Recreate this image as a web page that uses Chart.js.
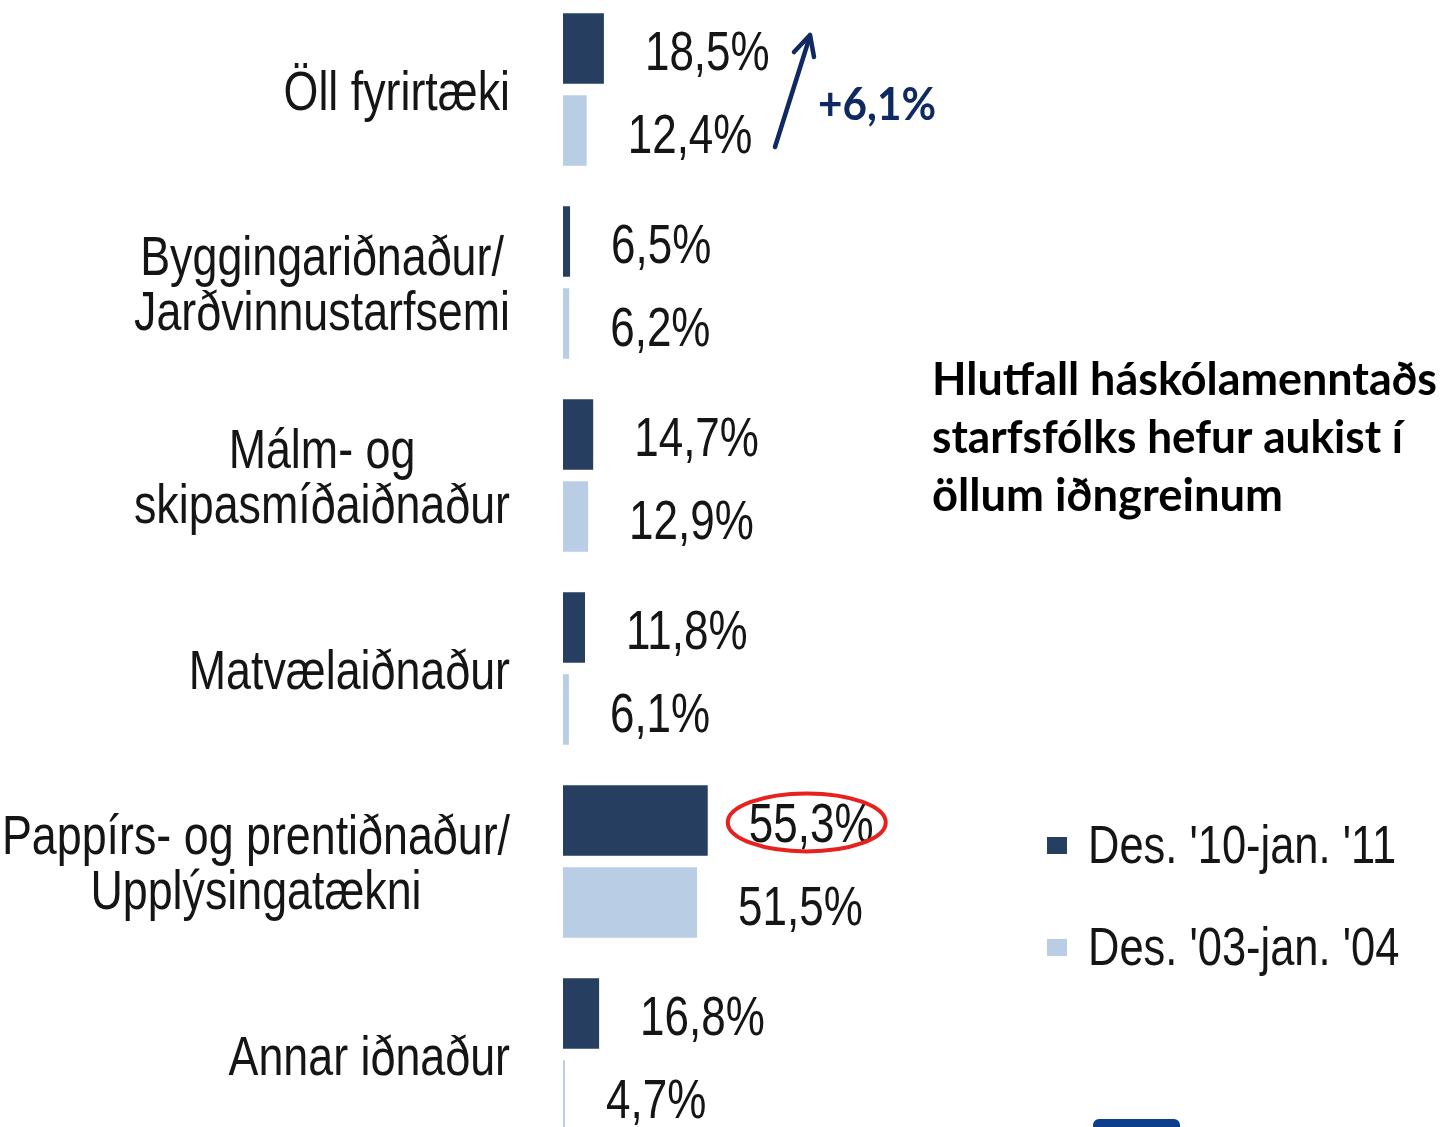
<!DOCTYPE html>
<html>
<head>
<meta charset="utf-8">
<script src="https://cdn.jsdelivr.net/npm/chart.js@4.4.1/dist/chart.umd.min.js"></script>
<style>
  html, body { margin: 0; padding: 0; background: #fff; overflow: hidden; }
  #wrap { position: absolute; left: 0; top: -7px; width: 1443px; height: 1158px; }
</style>
</head>
<body>
<div id="wrap"><canvas id="graphCanvas"></canvas></div>
<script>
var categories = [
  ["Öll fyrirtæki"],
  ["Byggingariðnaður/", "Jarðvinnustarfsemi"],
  ["Málm- og", "skipasmíðaiðnaður"],
  ["Matvælaiðnaður"],
  ["Pappírs- og prentiðnaður/", "Upplýsingatækni"],
  ["Annar iðnaður"]
];
var seriesNames = ["Des. '10-jan. '11", "Des. '03-jan. '04"];
var values2011 = [18.5, 6.5, 14.7, 11.8, 55.3, 16.8];
var values2004 = [12.4, 6.2, 12.9, 6.1, 51.5, 4.7];
var axisMin = 4;
var axisMax = 60;
var changeLabel = "+6,1%";
var noteLines = ["Hlutfall háskólamenntaðs", "starfsfólks hefur aukist í", "öllum iðngreinum"];

var darkBlue = "#263f60";
var lightBlue = "#b9cde5";
var navy = "#0f2a62";
var sans = '"Liberation Sans", Arial, sans-serif';
var boldFont = 'Lato, "Open Sans", sans-serif';
var off = 7; // canvas sits 7px above the page top
var squeeze = 0.8; // narrow look of the original text

function fmt(v) {
  return v.toFixed(1).replace(".", ",") + "%";
}

// draw text squeezed horizontally
function narrowText(ctx, t, x, y, sx) {
  ctx.save();
  ctx.translate(x, y);
  ctx.scale(sx, 1);
  ctx.fillText(t, 0, 0);
  ctx.restore();
}

var drawPlugin = {
  id: "drawExtras",
  afterDraw: function (chart) {
    var ctx = chart.ctx;
    var yScale = chart.scales.y;
    ctx.save();
    ctx.textBaseline = "alphabetic";

    // category labels, block right aligned, lines centred
    ctx.fillStyle = "#151515";
    ctx.font = "56px " + sans;
    ctx.textAlign = "center";
    chart.data.labels.forEach(function (lines, i) {
      var cy = yScale.getPixelForValue(i);
      var w = 0;
      lines.forEach(function (t) { w = Math.max(w, ctx.measureText(t).width * squeeze); });
      var cx = 510 - w / 2;
      var first = cy + 20 - (lines.length - 1) * 55 / 2;
      lines.forEach(function (t, k) { narrowText(ctx, t, cx, first + k * 55, squeeze); });
    });

    // value labels next to bars
    ctx.font = "55px " + sans;
    ctx.textAlign = "left";
    chart.data.datasets.forEach(function (ds, d) {
      chart.getDatasetMeta(d).data.forEach(function (bar, i) {
        narrowText(ctx, fmt(ds.data[i]), bar.x + 41, bar.y + 22, squeeze);
      });
    });

    // red ellipse round the highest value
    var hl = chart.getDatasetMeta(0).data[4];
    ctx.strokeStyle = "#e8201e";
    ctx.lineWidth = 4;
    ctx.beginPath();
    ctx.ellipse(hl.x + 99, hl.y + 2, 79, 29, 0, 0, Math.PI * 2);
    ctx.stroke();

    // arrow and change label
    ctx.strokeStyle = navy;
    ctx.lineWidth = 4.5;
    ctx.lineCap = "round";
    ctx.lineJoin = "round";
    ctx.beginPath();
    ctx.moveTo(775, 147 + off);
    ctx.lineTo(810, 36 + off);
    ctx.stroke();
    ctx.beginPath();
    ctx.moveTo(794, 52 + off);
    ctx.lineTo(810, 35 + off);
    ctx.lineTo(814, 57 + off);
    ctx.stroke();

    ctx.fillStyle = navy;
    ctx.font = "bold 46px " + boldFont;
    ctx.fillText(changeLabel, 818, 120 + off, 118);

    // note text
    ctx.fillStyle = "#000";
    ctx.font = "bold 46px " + boldFont;
    var noteW = [505, 471, 351];
    noteLines.forEach(function (t, k) {
      ctx.fillText(t, 932, 395 + off + k * 58, noteW[k]);
    });

    // legend
    ctx.font = "53px " + sans;
    chart.data.datasets.forEach(function (ds, d) {
      var ty = 863 + d * 102 + off;
      ctx.fillStyle = ds.backgroundColor;
      ctx.fillRect(1047, ty - 26, 20, 17);
      ctx.fillStyle = "#151515";
      narrowText(ctx, ds.label, 1088, ty, 0.82);
    });

    // cut-off blue shape at the bottom
    ctx.fillStyle = "#0b3e8c";
    ctx.beginPath();
    ctx.roundRect(1093, 1119 + off, 87, 30, 6);
    ctx.fill();

    ctx.restore();
  }
};

new Chart(document.getElementById("graphCanvas"), {
  type: "bar",
  data: {
    labels: categories,
    datasets: [
      {
        label: seriesNames[0],
        backgroundColor: darkBlue,
        data: values2011,
        barPercentage: 0.86,
        categoryPercentage: 0.85
      },
      {
        label: seriesNames[1],
        backgroundColor: lightBlue,
        data: values2004,
        barPercentage: 0.86,
        categoryPercentage: 0.85
      }
    ]
  },
  options: {
    indexAxis: "y",
    responsive: true,
    maintainAspectRatio: false,
    animation: false,
    layout: { padding: { left: 563, right: 722, top: 0, bottom: 0 } },
    scales: {
      x: { display: false, min: axisMin, max: axisMax },
      y: { display: false }
    },
    plugins: {
      legend: { display: false },
      tooltip: { enabled: false }
    }
  },
  plugins: [drawPlugin]
});
</script>
</body>
</html>
